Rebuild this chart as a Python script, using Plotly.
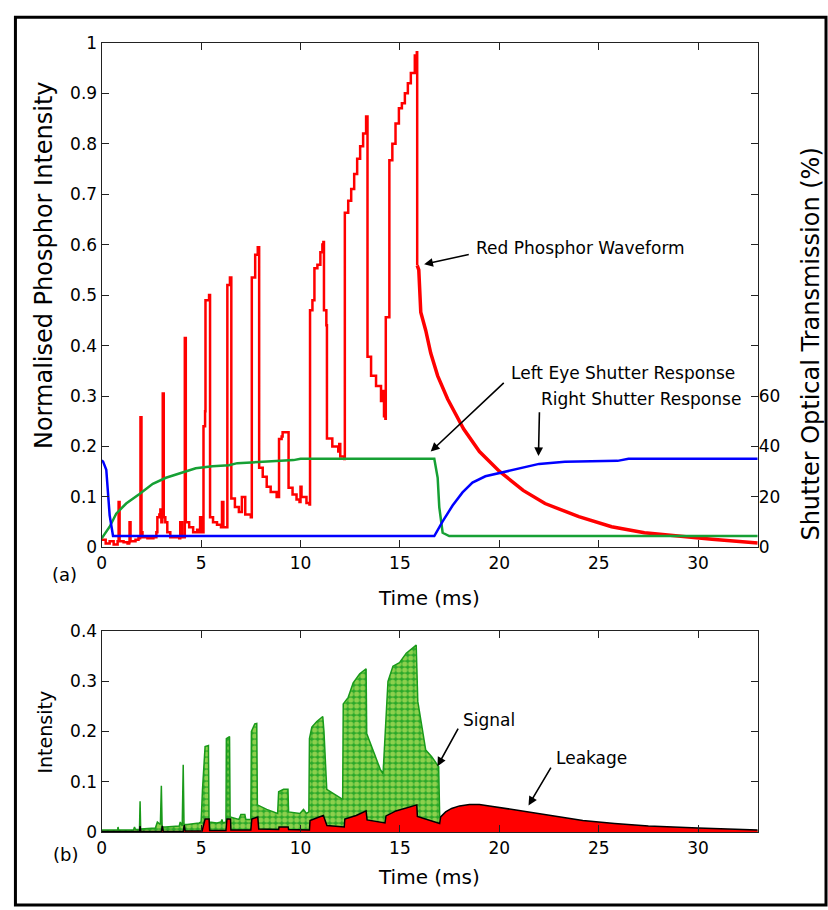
import plotly.graph_objects as go

W, H = 828, 910

# ---------------- (a) top panel data ----------------
# Red phosphor waveform: time (ms) and normalised intensity
red_t = [0, 0.2, 0.4, 0.6, 0.8, 0.83, 0.85, 0.88, 0.9, 1.1, 1.3, 1.38, 1.4, 1.43, 1.45, 1.7, 1.85,
         1.93, 1.95, 1.98, 2.0, 2.05, 2.3, 2.6, 2.75, 2.8, 2.9, 2.95, 3.0,
         3.05, 3.07, 3.10, 3.12, 3.2, 3.3, 3.45, 3.7, 3.9, 3.95, 4.0, 4.05, 4.15,
         4.17, 4.18, 4.21, 4.23, 4.4, 4.6, 4.8, 4.9, 4.95, 5.0, 5.05,
         5.1, 5.12, 5.2, 5.22, 5.4, 5.43, 5.45, 5.6, 5.8, 6.0, 6.05, 6.1, 6.12, 6.3,
         6.32, 6.42, 6.45, 6.5, 6.52, 6.7, 6.9, 7.0, 7.05, 7.2, 7.22, 7.5,
         7.55, 7.7, 7.72, 7.8, 7.85, 7.9, 7.92, 8.1, 8.3, 8.5, 8.8, 8.9,
         8.92, 9.05, 9.1, 9.38, 9.4, 9.6, 9.8, 9.95, 10.0, 10.05, 10.3, 10.45,
         10.48, 10.6, 10.7, 10.85, 11.0, 11.1, 11.15, 11.18, 11.3, 11.33, 11.6, 11.9, 11.95, 12.0, 12.2,
         12.23, 12.4, 12.55, 12.7, 12.85, 13.0, 13.15, 13.3, 13.35, 13.37, 13.55, 13.8, 14.05, 14.1, 14.2, 14.27,
         14.29, 14.47, 14.62, 14.78, 14.95, 15.1, 15.25, 15.4, 15.55, 15.75, 15.85, 15.87,
         15.95, 16.05, 16.3, 16.55, 16.9, 17.4, 18.2, 19.0, 20.0, 21.2, 22.3, 24.0, 25.65, 27.3, 29.0, 30.7, 33]
red_v = [0.015, 0.008, 0.012, 0.006, 0.012, 0.012, 0.09, 0.09, 0.012, 0.01, 0.008, 0.01, 0.05, 0.05, 0.012, 0.015, 0.018,
         0.02, 0.258, 0.258, 0.03, 0.02, 0.018, 0.02, 0.03, 0.06, 0.065, 0.075, 0.05,
         0.07, 0.305, 0.305, 0.06, 0.05, 0.03, 0.02, 0.02, 0.018, 0.05, 0.05, 0.02, 0.02,
         0.02, 0.415, 0.415, 0.05, 0.04, 0.03, 0.035, 0.03, 0.06, 0.06, 0.03,
         0.03, 0.24, 0.27, 0.49, 0.50, 0.50, 0.06, 0.05, 0.045, 0.04, 0.09, 0.09, 0.04, 0.04,
         0.52, 0.52, 0.535, 0.535, 0.097, 0.08, 0.07, 0.07, 0.10, 0.10, 0.065, 0.06,
         0.535, 0.535, 0.58, 0.58, 0.595, 0.595, 0.158, 0.14, 0.12, 0.11, 0.10, 0.10,
         0.215, 0.22, 0.228, 0.228, 0.118, 0.105, 0.095, 0.09, 0.12, 0.10, 0.088, 0.085,
         0.47, 0.49, 0.553, 0.56, 0.585, 0.60, 0.605, 0.47, 0.44, 0.216, 0.20, 0.19, 0.205, 0.18, 0.175,
         0.663, 0.687, 0.71, 0.74, 0.77, 0.795, 0.82, 0.854, 0.854, 0.378, 0.34, 0.32, 0.29, 0.31, 0.26, 0.255,
         0.456, 0.767, 0.80, 0.84, 0.87, 0.88, 0.90, 0.92, 0.94, 0.975, 0.981, 0.559,
         0.55, 0.466, 0.43, 0.385, 0.34, 0.294, 0.235, 0.19, 0.151, 0.113, 0.087, 0.061, 0.041, 0.029, 0.022, 0.016, 0.009]

# Left-eye shutter optical transmission (%)
left_t = [0, 0.4, 0.73, 1.23, 1.9, 2.57, 3.23, 4.07, 4.73, 5.57, 6.4, 6.82, 8.5, 9.65, 10.0,
          16.73, 16.9, 16.98, 17.15, 17.48, 33]
left_pct = [3.6, 8.2, 13.4, 17.4, 21.2, 25.2, 27.6, 29.6, 31.4, 32.2, 32.6, 33.4, 34.0, 34.6, 35.1,
            35.1, 27.6, 16.0, 5.8, 4.5, 4.5]

# Right shutter optical transmission (%)
right_t = [0, 0.07, 0.23, 0.32, 0.4, 0.57, 16.73, 17.15, 17.65, 18.15, 18.65, 19.3, 20.0, 20.65,
           21.3, 22.0, 23.3, 25.95, 26.5, 33]
right_pct = [34.5, 34.0, 30.8, 20.5, 12.7, 4.5, 4.5, 10.3, 16.6, 21.8, 25.7, 28.2, 29.5, 30.8,
             32.1, 33.1, 34.0, 34.3, 35.1, 35.1]

# ---------------- (b) bottom panel data ----------------
signal_t = [0, 0.8, 0.82, 0.85, 1.6, 1.65, 1.7, 1.9, 1.93, 1.96, 2.7, 2.8, 2.95, 3.0, 3.04, 3.2,
            3.9, 3.95, 4.05, 4.1, 4.14, 4.3, 4.9, 5.0, 5.07, 5.2, 5.37, 5.4, 5.8, 6.0, 6.05, 6.1, 6.25,
            6.27, 6.43, 6.46, 6.9, 7.0, 7.2, 7.25, 7.5,
            7.53, 7.7, 7.8, 7.83, 8.3, 8.85, 8.9, 9.15, 9.37, 9.4, 9.97, 10.15, 10.3, 10.42,
            10.45, 10.57, 10.82, 11.12, 11.18, 11.32, 11.98, 12.12,
            12.15, 12.4, 12.65, 12.98, 13.3, 13.33, 14.02, 14.15,
            14.18, 14.4, 14.65, 14.98, 15.32, 15.82, 15.9, 16.3, 16.6, 16.95, 17.0,
            17.05, 17.5, 18.5, 20.0, 22.0, 25.0, 28.0, 33.0]
signal_v = [0.004, 0.004, 0.01, 0.004, 0.004, 0.01, 0.005, 0.005, 0.061, 0.006, 0.008, 0.02, 0.015, 0.092, 0.01, 0.01,
            0.012, 0.02, 0.012, 0.134, 0.015, 0.015, 0.018, 0.02, 0.085, 0.17, 0.172, 0.02, 0.018, 0.02, 0.025, 0.018, 0.02,
            0.186, 0.19, 0.03, 0.025, 0.035, 0.035, 0.025, 0.025,
            0.2, 0.215, 0.216, 0.054, 0.045, 0.037, 0.08, 0.085, 0.085, 0.04, 0.037, 0.045, 0.037, 0.04,
            0.186, 0.209, 0.22, 0.23, 0.2, 0.085, 0.068, 0.065,
            0.255, 0.268, 0.297, 0.315, 0.325, 0.196, 0.124, 0.116,
            0.137, 0.30, 0.33, 0.337, 0.356, 0.372, 0.26, 0.163, 0.15, 0.13, 0.033,
            0.025, 0.018, 0.012, 0.008, 0.005, 0.003, 0.002, 0.001]

leak_t = [0, 1.9, 1.93, 1.97, 3.0, 3.05, 3.1, 4.1, 4.15, 4.2, 5.05, 5.1, 5.2, 5.4, 5.43, 6.25, 6.3, 6.48, 6.5,
          7.5, 7.55, 7.85, 7.9, 8.9, 8.92, 9.38, 9.4, 10.45, 10.48, 10.8, 11.15, 11.33, 12.2, 12.23, 12.8,
          13.3, 13.35, 14.25, 14.3, 14.8, 15.4, 15.85, 15.88, 16.4, 17.0,
          17.05, 17.3, 17.6, 18.0, 18.5, 19.0, 19.5, 20.5, 21.5, 22.8, 24.2, 25.8, 27.5, 30.0, 33.0]
leak_v = [0.001, 0.001, 0.012, 0.001, 0.001, 0.012, 0.001, 0.001, 0.014, 0.002, 0.002, 0.012, 0.026, 0.026, 0.003,
          0.003, 0.026, 0.026, 0.004, 0.004, 0.026, 0.03, 0.006, 0.005, 0.01, 0.01, 0.005, 0.004, 0.023, 0.028,
          0.033, 0.013, 0.01, 0.026, 0.033, 0.042, 0.024, 0.018, 0.032, 0.042, 0.048, 0.054, 0.031, 0.024, 0.017,
          0.03, 0.04, 0.047, 0.052, 0.055, 0.055, 0.052, 0.046, 0.039, 0.031, 0.023, 0.017, 0.012, 0.008, 0.004]

x_ticks = [0, 5, 10, 15, 20, 25, 30]
top_ticks = [0, 0.1, 0.2, 0.3, 0.4, 0.5, 0.6, 0.7, 0.8, 0.9, 1]
top_labels = ["0", "0.1", "0.2", "0.3", "0.4", "0.5", "0.6", "0.7", "0.8", "0.9", "1"]
right_ticks = [0, 20, 40, 60]
bot_ticks = [0, 0.1, 0.2, 0.3, 0.4]
bot_labels = ["0", "0.1", "0.2", "0.3", "0.4"]

FONT = "DejaVu Sans"
RED = "#ff0000"
GREEN = "#16a034"
BLUE = "#0000ff"

# split the red waveform: stepped drive section and the decay tail
split = red_t.index(15.87) + 1

fig = go.Figure()
fig.add_trace(go.Scatter(x=red_t[:split], y=red_v[:split], mode="lines", line=dict(color=RED, width=2.5, shape="hv"),
                         xaxis="x", yaxis="y", showlegend=False))
fig.add_trace(go.Scatter(x=red_t[split - 1:], y=red_v[split - 1:], mode="lines", line=dict(color=RED, width=3.5),
                         xaxis="x", yaxis="y", showlegend=False))
fig.add_trace(go.Scatter(x=left_t, y=left_pct, mode="lines", line=dict(color=GREEN, width=2.5),
                         xaxis="x", yaxis="y2", showlegend=False))
fig.add_trace(go.Scatter(x=right_t, y=right_pct, mode="lines", line=dict(color=BLUE, width=2.5),
                         xaxis="x", yaxis="y2", showlegend=False))

fig.add_trace(go.Scatter(x=signal_t, y=signal_v, mode="lines", fill="tozeroy",
                         line=dict(color="#1a9a1a", width=1.5),
                         fillcolor="#2db02d",
                         fillpattern=dict(shape=".", bgcolor="#2aa82a", fgcolor="#f0f870", size=6, solidity=0.6),
                         xaxis="x2", yaxis="y3", showlegend=False))
fig.add_trace(go.Scatter(x=leak_t, y=leak_v, mode="lines", fill="tozeroy",
                         line=dict(color="black", width=1.5), fillcolor=RED,
                         xaxis="x2", yaxis="y3", showlegend=False))

def px_x(p):
    return p / W

def px_y(p):
    return 1 - p / H

xdom = [px_x(97.3), px_x(757.3)]
axis_common = dict(showline=True, linecolor="#222", linewidth=1.3, mirror="ticks", ticks="inside",
                   ticklen=7, tickwidth=1.3, tickcolor="#222", showgrid=False, zeroline=False,
                   tickfont=dict(family=FONT, size=17, color="black"))

fig.update_layout(
    width=W, height=H, margin=dict(l=0, r=0, t=0, b=0),
    paper_bgcolor="white", plot_bgcolor="white",
    xaxis=dict(domain=xdom, anchor="y", range=[0, 33], tickvals=x_ticks, **axis_common),
    yaxis=dict(domain=[px_y(549.5), px_y(33.5)], anchor="x", range=[0, 1],
               tickvals=top_ticks, ticktext=top_labels, **axis_common),
    yaxis2=dict(overlaying="y", side="right", anchor="x", range=[0, 200], tickvals=right_ticks,
                showline=False, ticks="", showgrid=False, zeroline=False,
                tickfont=dict(family=FONT, size=17, color="black")),
    xaxis2=dict(domain=xdom, anchor="y3", range=[0, 33], tickvals=x_ticks, **axis_common),
    yaxis3=dict(domain=[px_y(840.5), px_y(635)], anchor="x2", range=[0, 0.4],
                tickvals=bot_ticks, ticktext=bot_labels, **axis_common),
    font=dict(family=FONT, color="black"),
)

ann = []
def txt(x, y, s, size=19, xref="paper", yref="paper", xanchor="center", angle=0):
    ann.append(dict(x=x, y=y, xref=xref, yref=yref, text=s, showarrow=False, xanchor=xanchor,
                    yanchor="middle", textangle=angle, font=dict(family=FONT, size=size, color="black")))

def arrow(x, y, ax, ay, xref, yref):
    ann.append(dict(x=x, y=y, ax=ax, ay=ay, xref=xref, yref=yref, axref=xref, ayref=yref, text="",
                    showarrow=True, arrowhead=2, arrowsize=1.1, arrowwidth=1.6, arrowcolor="black"))

# axis titles & panel labels
txt(px_x(427), px_y(601), "Time (ms)", size=20)
txt(px_x(427), px_y(886), "Time (ms)", size=20)
txt(px_x(40), px_y(261), "Normalised Phosphor Intensity", size=24, angle=-90)
txt(px_x(811), px_y(342), "Shutter Optical Transmission (%)", size=24, angle=-90)
txt(px_x(40), px_y(738), "Intensity", size=19, angle=-90)
txt(px_x(60), px_y(577), "(a)", size=18)
txt(px_x(61), px_y(863), "(b)", size=18)

# top annotations
txt(18.75, 0.594, "Red Phosphor Waveform", size=17, xref="x", yref="y", xanchor="left")
arrow(16.22, 0.561, 18.54, 0.581, "x", "y")
txt(20.49, 0.345, "Left Eye Shutter Response", size=17, xref="x", yref="y", xanchor="left")
arrow(16.55, 0.190, 20.3, 0.329, "x", "y")
txt(21.99, 0.294, "Right Shutter Response", size=17, xref="x", yref="y", xanchor="left")
arrow(21.97, 0.181, 22.02, 0.271, "x", "y")

# bottom annotations
txt(18.09, 0.223, "Signal", size=17, xref="x2", yref="y3", xanchor="left")
arrow(16.89, 0.131, 17.97, 0.209, "x2", "y3")
txt(22.74, 0.147, "Leakage", size=17, xref="x2", yref="y3", xanchor="left")
arrow(21.47, 0.053, 22.64, 0.131, "x2", "y3")

fig.update_layout(annotations=ann)

# outer frame
fig.add_shape(type="rect", xref="paper", yref="paper", x0=px_x(10.5), x1=px_x(826), y0=px_y(915), y1=px_y(7.5),
              line=dict(color="black", width=3), fillcolor="rgba(0,0,0,0)")

fig.write_html("out.html")
